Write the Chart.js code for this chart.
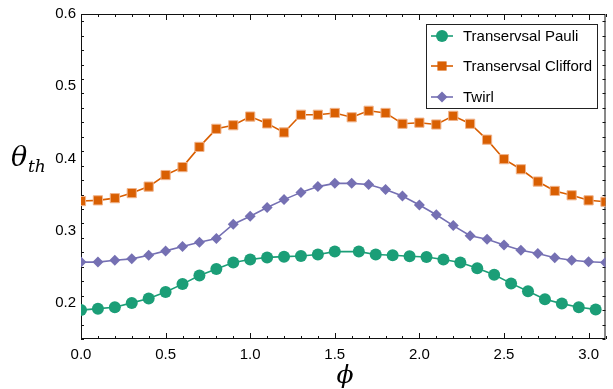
<!DOCTYPE html>
<html>
<head>
<meta charset="utf-8">
<script src="https://cdn.jsdelivr.net/npm/chart.js@4.4.1/dist/chart.umd.min.js"></script>
<style>
  html, body { margin: 0; padding: 0; background: #fff; }
</style>
</head>
<body>
<canvas id="thetaCanvas" width="613" height="389"></canvas>
<script>
// phi values of the Clifford and Twirl runs
const phi = [0.0, 0.1, 0.2, 0.3, 0.4, 0.5, 0.6, 0.7, 0.8, 0.9, 1.0, 1.1, 1.2, 1.3, 1.4, 1.5,
             1.6, 1.7, 1.8, 1.9, 2.0, 2.1, 2.2, 2.3, 2.4, 2.5, 2.6, 2.7, 2.8, 2.9, 3.0, 3.1];
// the Pauli run uses pi - phi for the second half
const phiPauli = [0.0, 0.1, 0.2, 0.3, 0.4, 0.5, 0.6, 0.7, 0.8, 0.9, 1.0, 1.1, 1.2, 1.3, 1.4, 1.5,
                  1.642, 1.742, 1.842, 1.942, 2.042, 2.142, 2.242, 2.342, 2.442, 2.542, 2.642, 2.742, 2.842, 2.942, 3.042];

const pauli = [0.190, 0.192, 0.194, 0.200, 0.206, 0.215, 0.226, 0.238, 0.247, 0.256, 0.260, 0.263, 0.264, 0.265, 0.267, 0.271,
               0.271, 0.267, 0.266, 0.2645, 0.2635, 0.260, 0.256, 0.248, 0.239, 0.227, 0.216, 0.205, 0.199, 0.194, 0.191];
const clifford = [0.341, 0.342, 0.345, 0.352, 0.361, 0.377, 0.388, 0.416, 0.441, 0.446, 0.458, 0.4485, 0.436, 0.4605, 0.4605, 0.463,
                  0.457, 0.466, 0.463, 0.448, 0.4495, 0.447, 0.459, 0.448, 0.426, 0.399, 0.385, 0.368, 0.355, 0.349, 0.342, 0.340];
const twirl = [0.2565, 0.2565, 0.259, 0.261, 0.266, 0.272, 0.278, 0.284, 0.289, 0.309, 0.320, 0.332, 0.343, 0.353, 0.361, 0.3655,
               0.3655, 0.364, 0.357, 0.348, 0.3355, 0.322, 0.307, 0.293, 0.288, 0.280, 0.273, 0.2685, 0.2625, 0.259, 0.257, 0.256];

const seriesNames = ["Transervsal Pauli", "Transervsal Clifford", "Twirl"];
const xTicks = [0.0, 0.5, 1.0, 1.5, 2.0, 2.5, 3.0];
const yTicks = [0.2, 0.3, 0.4, 0.5, 0.6];

const green = "#1b9e77";
const orange = "#d95f02";
const purple = "#7570b3";

function pairs(xs, ys) {
    return ys.map((y, i) => ({ x: xs[i], y: y }));
}

function marker(ctx, style, x, y, r, color) {
    ctx.fillStyle = color;
    ctx.beginPath();
    if (style === "circle") {
        ctx.arc(x, y, r, 0, Math.PI * 2);
    } else if (style === "rect") {
        const s = r * Math.SQRT1_2;
        ctx.rect(x - s, y - s, 2 * s, 2 * s);
    } else {
        ctx.moveTo(x, y - r);
        ctx.lineTo(x + r, y);
        ctx.lineTo(x, y + r);
        ctx.lineTo(x - r, y);
        ctx.closePath();
    }
    ctx.fill();
}

// Mathematica style frame with inward ticks, axis labels and boxed legend
const framePlugin = {
    id: "frame",
    beforeDatasetsDraw(chart) {
        const ctx = chart.ctx;
        const a = chart.chartArea;
        const xs = chart.scales.x;
        const ys = chart.scales.y;
        ctx.save();
        ctx.strokeStyle = "#111";
        ctx.lineWidth = 1;
        ctx.strokeRect(a.left + 0.5, a.top + 0.5, a.right - a.left - 1, a.bottom - a.top - 1);
        ctx.beginPath();
        for (let k = 0; k <= 31; k++) {
            const v = k * 0.1;
            const px = Math.round(xs.getPixelForValue(v)) + 0.5;
            const len = k % 5 === 0 ? 6 : 3;
            ctx.moveTo(px, a.bottom);
            ctx.lineTo(px, a.bottom - len);
            ctx.moveTo(px, a.top);
            ctx.lineTo(px, a.top + len);
        }
        for (let k = 0; k <= 45; k += 2) {
            const v = 0.15 + k * 0.01;
            const py = Math.round(ys.getPixelForValue(v)) + 0.5;
            const len = Math.abs(v * 10 - Math.round(v * 10)) < 0.001 ? 6 : 3;
            ctx.moveTo(a.left, py);
            ctx.lineTo(a.left + len, py);
            ctx.moveTo(a.right, py);
            ctx.lineTo(a.right - len, py);
        }
        ctx.stroke();
        ctx.restore();
    },
    afterDraw(chart) {
        const ctx = chart.ctx;
        ctx.save();
        ctx.fillStyle = "#000";
        // axis titles
        ctx.font = "italic 27px 'DejaVu Serif'";
        ctx.textBaseline = "alphabetic";
        ctx.fillText("θ", 11, 166);
        ctx.font = "italic 17px 'DejaVu Serif'";
        ctx.fillText("th", 28, 172);
        ctx.font = "italic 25px 'DejaVu Serif'";
        ctx.textAlign = "center";
        ctx.fillText("ϕ", 345, 383);

        // legend
        const bx = 426, by = 24, bw = 171, bh = 84;
        ctx.fillStyle = "#fff";
        ctx.fillRect(bx, by, bw, bh);
        ctx.strokeStyle = "#222";
        ctx.lineWidth = 1;
        ctx.strokeRect(bx + 0.5, by + 0.5, bw, bh);
        const rows = [36, 66, 97];
        const styles = ["circle", "rect", "rectRot"];
        const colors = [green, orange, purple];
        const sizes = [6, 6.5, 5.5];
        ctx.textAlign = "left";
        ctx.textBaseline = "middle";
        ctx.font = "15px 'Liberation Sans'";
        rows.forEach((ry, i) => {
            ctx.strokeStyle = colors[i];
            ctx.lineWidth = 1.6;
            ctx.beginPath();
            ctx.moveTo(431, ry);
            ctx.lineTo(453, ry);
            ctx.stroke();
            marker(ctx, styles[i], 442, ry, sizes[i], colors[i]);
            ctx.fillStyle = "#000";
            ctx.fillText(seriesNames[i], 463, ry + 1);
        });
        ctx.restore();
    }
};

new Chart(document.getElementById("thetaCanvas"), {
    type: "line",
    data: {
        datasets: [
            {
                label: seriesNames[0],
                data: pairs(phiPauli, pauli),
                borderColor: green,
                backgroundColor: green,
                pointStyle: "circle",
                pointRadius: 6,
                pointBorderWidth: 0,
                borderWidth: 1.6,
            },
            {
                label: seriesNames[1],
                data: pairs(phi, clifford),
                borderColor: orange,
                backgroundColor: orange,
                pointStyle: "rect",
                pointRadius: 6.5,
                pointBorderWidth: 1,
                pointBorderColor: "#f0b38a",
                borderWidth: 1.6,
            },
            {
                label: seriesNames[2],
                data: pairs(phi, twirl),
                borderColor: purple,
                backgroundColor: purple,
                pointStyle: "rectRot",
                pointRadius: 5.5,
                pointBorderWidth: 0,
                borderWidth: 1.6,
            },
        ],
    },
    options: {
        responsive: false,
        animation: false,
        layout: { padding: { left: 0, top: 14, right: 4, bottom: 0 } },
        plugins: {
            legend: { display: false },
            tooltip: { enabled: false },
        },
        scales: {
            x: {
                type: "linear",
                min: 0,
                max: 3.1,
                afterBuildTicks: (scale) => { scale.ticks = xTicks.map(v => ({ value: v })); },
                afterFit: (scale) => { scale.height = 50; },
                grid: { display: false, drawTicks: false },
                border: { display: false },
                ticks: {
                    padding: 7,
                    color: "#000",
                    font: { family: "'Liberation Sans'", size: 15 },
                    callback: (v) => Number(v).toFixed(1),
                },
            },
            y: {
                type: "linear",
                min: 0.15,
                max: 0.6,
                afterBuildTicks: (scale) => { scale.ticks = yTicks.map(v => ({ value: v })); },
                afterFit: (scale) => { scale.width = 81; },
                grid: { display: false, drawTicks: false },
                border: { display: false },
                ticks: {
                    padding: 5,
                    color: "#000",
                    font: { family: "'Liberation Sans'", size: 15 },
                    callback: (v) => Number(v).toFixed(1),
                },
            },
        },
    },
    plugins: [framePlugin],
});
</script>
</body>
</html>
